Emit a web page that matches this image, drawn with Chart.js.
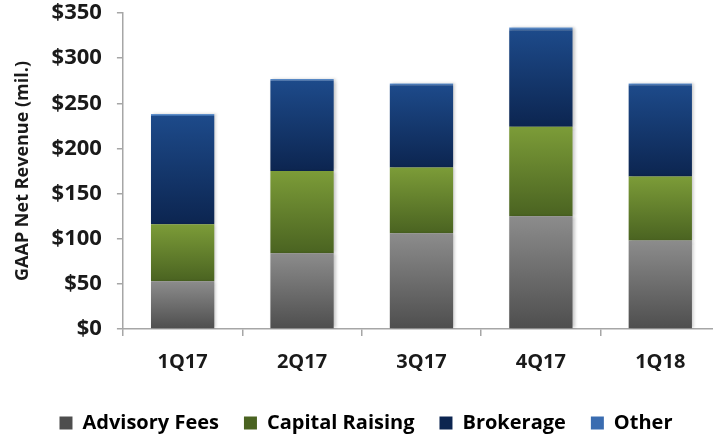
<!DOCTYPE html>
<html>
<head>
<meta charset="utf-8">
<script src="https://cdn.jsdelivr.net/npm/chart.js@4"></script>
<style>
  html, body { margin: 0; padding: 0; background: #fff; overflow: hidden; }
  #wrap { width: 722px; height: 434px; }
</style>
</head>
<body>
<div id="wrap"><canvas id="revChart"></canvas></div>
<script>
const quarters = ['1Q17', '2Q17', '3Q17', '4Q17', '1Q18'];
const advisoryFees = [53, 84, 106, 125, 98];
const capitalRaising = [63, 91, 73, 99, 71];
const brokerage = [120, 100, 91, 107, 101];
const other = [2, 2, 2, 3, 2];
const yTicks = [0, 50, 100, 150, 200, 250, 300, 350];

const seriesList = [advisoryFees, capitalRaising, brokerage, other];
// top / bottom colour of each segment gradient
const shades = [
    ['#8c8c8c', '#4e4e4e'],
    ['#7c9c38', '#4a6321'],
    ['#1d4a8a', '#0c2550'],
    ['#6a9ad4', '#3a6cb0']
];

function segmentFill(dsIndex) {
    return (ctx) => {
        const chart = ctx.chart;
        const [topColor, bottomColor] = shades[dsIndex];
        if (!chart.chartArea || ctx.type !== 'data') return bottomColor;
        const i = ctx.dataIndex;
        let base = 0;
        for (let k = 0; k < dsIndex; k++) base += seriesList[k][i];
        const yScale = chart.scales.y;
        const yTop = yScale.getPixelForValue(base + seriesList[dsIndex][i]);
        const yBot = yScale.getPixelForValue(base);
        if (!isFinite(yTop) || !isFinite(yBot) || yTop === yBot) return bottomColor;
        const g = chart.ctx.createLinearGradient(0, yTop, 0, yBot);
        g.addColorStop(0, topColor);
        g.addColorStop(1, bottomColor);
        return g;
    };
}

const labelsSeries = ['Advisory Fees', 'Capital Raising', 'Brokerage', 'Other'];
const fontFam = '"Open Sans", sans-serif';

const barShadow = {
    id: 'barShadow',
    beforeDatasetsDraw(chart) {
        const c = chart.ctx;
        c.save();
        c.shadowColor = 'rgba(0,0,0,0.22)';
        c.shadowBlur = 3;
        c.shadowOffsetX = 2;
        c.shadowOffsetY = 0;
    },
    afterDatasetsDraw(chart) {
        chart.ctx.restore();
    }
};

// keep the legend box to a fixed height
const legendHeight = {
    id: 'legendHeight',
    beforeLayout(chart) {
        const lg = chart.legend;
        if (lg && !lg._fixedFit) {
            const origFit = lg.fit;
            lg.fit = function () {
                origFit.call(this);
                this.height = 46;
            };
            lg._fixedFit = true;
        }
    }
};

new Chart(document.getElementById('revChart'), {
    type: 'bar',
    data: {
        labels: quarters,
        datasets: seriesList.map((vals, i) => ({
            label: labelsSeries[i],
            data: vals,
            backgroundColor: segmentFill(i),
            borderWidth: 0,
            barPercentage: 0.53,
            categoryPercentage: 1.0
        }))
    },
    options: {
        responsive: true,
        maintainAspectRatio: false,
        animation: false,
        layout: { padding: { top: 8, right: 2, bottom: 0, left: 12 } },
        plugins: {
            tooltip: { enabled: false },
            legend: {
                position: 'bottom',
                labels: {
                    color: '#1a1a1a',
                    font: { family: fontFam, size: 20, weight: 'bold' },
                    boxWidth: 13,
                    boxHeight: 13,
                    padding: 25,
                    generateLabels(chart) {
                        return labelsSeries.map((name, i) => ({
                            text: name,
                            fillStyle: shades[i][1],
                            strokeStyle: shades[i][1],
                            lineWidth: 0,
                            datasetIndex: i,
                            hidden: false
                        }));
                    }
                }
            }
        },
        scales: {
            x: {
                stacked: true,
                border: { color: '#a6a6a6', width: 1.5 },
                grid: {
                    display: true,
                    drawOnChartArea: false,
                    offset: true,
                    tickLength: 7,
                    color: '#a6a6a6',
                    lineWidth: 1.5
                },
                ticks: {
                    color: '#1a1a1a',
                    font: { family: fontFam, size: 20, weight: 'bold' },
                    padding: 14
                }
            },
            y: {
                stacked: true,
                min: 0,
                max: 350,
                afterBuildTicks(axis) {
                    axis.ticks = yTicks.map(v => ({ value: v }));
                },
                afterFit(scale) {
                    scale.paddingTop = 13;
                    scale.paddingBottom = 13;
                },
                border: { color: '#a6a6a6', width: 1.5 },
                grid: {
                    display: true,
                    drawOnChartArea: false,
                    tickLength: 6,
                    color: '#a6a6a6',
                    lineWidth: 1.5
                },
                ticks: {
                    color: '#1a1a1a',
                    font: { family: fontFam, size: 22, weight: 'bold' },
                    padding: 15,
                    callback: v => '$' + v
                },
                title: {
                    display: true,
                    text: 'GAAP Net Revenue (mil.)',
                    color: '#1a1a1a',
                    font: { family: fontFam, size: 18, weight: 'bold' },
                    padding: { top: 0, bottom: 3 }
                }
            }
        }
    },
    plugins: [barShadow, legendHeight]
});
</script>
</body>
</html>
